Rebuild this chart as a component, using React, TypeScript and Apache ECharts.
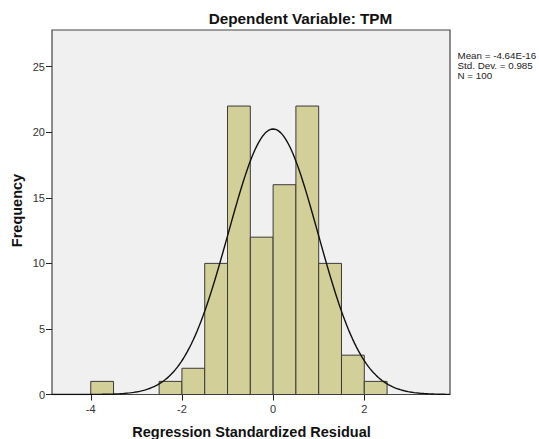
import React, { useEffect, useRef } from "react";
import * as echarts from "echarts";

const binStarts = [-4, -2.5, -2, -1.5, -1, -0.5, 0, 0.5, 1, 1.5, 2];
const counts = [1, 1, 2, 10, 22, 12, 16, 22, 10, 3, 1];
const binWidth = 0.5;
const mean = -4.64e-16;
const stdDev = 0.985;
const n = 100;
const xTicks = [-4, -2, 0, 2];
const titleText = "Dependent Variable: TPM";
const xTitle = "Regression Standardized Residual";
const yTitle = "Frequency";
const statsLines = ["Mean = -4.64E-16", "Std. Dev. = 0.985", "N = 100"];

const X_MIN = -4.85;
const X_MAX = 3.88;
const Y_MAX = 27.8;

function normalCurve(): number[][] {
  const pts: number[][] = [];
  const steps = 200;
  for (let i = 0; i <= steps; i++) {
    const x = X_MIN + ((X_MAX - X_MIN) * i) / steps;
    const z = (x - mean) / stdDev;
    const y = (n * binWidth * Math.exp(-0.5 * z * z)) / (stdDev * Math.sqrt(2 * Math.PI));
    pts.push([x, y]);
  }
  return pts;
}

export default function App() {
  const ref = useRef<HTMLDivElement>(null);
  useEffect(() => {
    if (!ref.current) return;
    const chart = echarts.init(ref.current, undefined, { renderer: "svg" });
    const font = "'Liberation Sans', Arial, sans-serif";
    const barData = binStarts.map((s, i) => [s, s + binWidth, counts[i]]);
    chart.setOption({
      animation: false,
      backgroundColor: "#ffffff",
      grid: {
        left: 52,
        right: 89,
        top: 30,
        bottom: 44.5,
        show: true,
        backgroundColor: "#f0f0f0",
        borderColor: "#444444",
        borderWidth: 1.2,
      },
      xAxis: {
        type: "value",
        min: X_MIN,
        max: X_MAX,
        splitLine: { show: false },
        axisLine: { show: false, onZero: false },
        axisTick: {
          show: true,
          customValues: xTicks,
          length: 6,
          lineStyle: { color: "#222222", width: 1 },
        },
        axisLabel: {
          customValues: xTicks,
          margin: 9,
          color: "#333333",
          fontFamily: font,
          fontSize: 11,
        },
      },
      yAxis: {
        type: "value",
        min: 0,
        max: Y_MAX,
        interval: 5,
        splitLine: { show: false },
        axisLine: { show: false, onZero: false },
        axisTick: {
          show: true,
          length: 6,
          lineStyle: { color: "#222222", width: 1 },
        },
        axisLabel: {
          margin: 7,
          color: "#333333",
          fontFamily: font,
          fontSize: 11,
          showMaxLabel: false,
        },
      },
      series: [
        {
          type: "custom",
          data: barData,
          renderItem: (params: any, api: any) => {
            const x0 = api.value(0);
            const x1 = api.value(1);
            const c = api.value(2);
            const p0 = api.coord([x0, c]);
            const p1 = api.coord([x1, 0]);
            return {
              type: "rect",
              shape: { x: p0[0], y: p0[1], width: p1[0] - p0[0], height: p1[1] - p0[1] },
              style: { fill: "#d3cf98", stroke: "#3a3a3a", lineWidth: 1 },
            };
          },
          encode: { x: [0, 1], y: 2 },
          z: 2,
        },
        {
          type: "line",
          data: normalCurve(),
          showSymbol: false,
          symbol: "none",
          smooth: false,
          lineStyle: { color: "#111111", width: 1.4 },
          clip: true,
          z: 3,
        },
      ],
      graphic: [
        {
          type: "text",
          x: 300.5,
          y: 18,
          style: {
            text: titleText,
            fontFamily: font,
            fontWeight: "bold",
            fontSize: 15.3,
            fill: "#111111",
            align: "center",
            verticalAlign: "middle",
          },
        },
        {
          type: "text",
          x: 251.5,
          y: 431.5,
          style: {
            text: xTitle,
            fontFamily: font,
            fontWeight: "bold",
            fontSize: 14.5,
            fill: "#111111",
            align: "center",
            verticalAlign: "middle",
          },
        },
        {
          type: "text",
          x: 17,
          y: 210.5,
          rotation: Math.PI / 2,
          style: {
            text: yTitle,
            fontFamily: font,
            fontWeight: "bold",
            fontSize: 14.5,
            fill: "#111111",
            align: "center",
            verticalAlign: "middle",
          },
        },
        ...statsLines.map((t, i) => ({
          type: "text",
          x: 457.5,
          y: 55.5 + i * 10,
          style: {
            text: t,
            fontFamily: font,
            fontSize: 9.8,
            fill: "#222222",
            align: "left",
            verticalAlign: "middle",
          },
        })),
      ],
    });
    return () => chart.dispose();
  }, []);
  return (
    <div
      ref={ref}
      style={{ position: "fixed", left: 0, top: 0, width: 539, height: 439 }}
    />
  );
}
